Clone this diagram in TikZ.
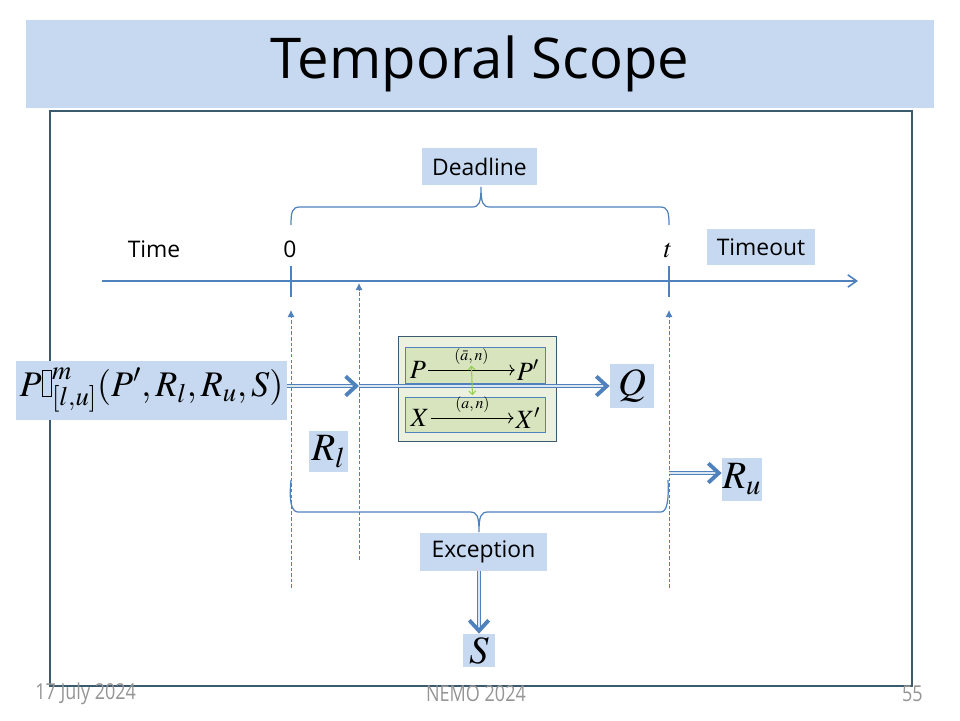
\documentclass[tikz,border=0pt]{standalone}
\usepackage{amsmath}
\usepackage{mathptmx}
\usepackage[no-math]{fontspec}
\setmainfont{Open Sans}
\newfontfamily\footfont[FakeStretch=0.82]{Open Sans}
\usetikzlibrary{arrows.meta,positioning}

\definecolor{boxblue}{HTML}{C6D9F1}
\definecolor{lineblue}{HTML}{4F81BD}
\definecolor{dblin}{HTML}{DCE6F2}
\definecolor{frameslate}{HTML}{3B5A6E}
\definecolor{cream}{HTML}{EBF1DE}
\definecolor{olive}{HTML}{D7E4BD}
\definecolor{grnarrow}{HTML}{92D050}
\definecolor{footgray}{HTML}{959595}

\newcommand{\tofu}{\mathord{\fboxsep=0pt\fboxrule=0.4pt\fbox{\vphantom{P}\hspace{0.25em}}}}

\begin{document}
\begin{tikzpicture}[
    x=0.02cm, y=-0.02cm, >=Latex,
    lbl/.style={fill=boxblue, inner sep=0pt, font=\fontsize{13}{15}\selectfont},
    mathbox/.style={fill=boxblue, inner sep=0pt, font=\fontsize{22}{26}\selectfont},
    plain/.style={inner sep=1pt, font=\fontsize{13}{15}\selectfont},
    axis/.style={draw=lineblue, line width=0.9pt},
    dsh/.style={draw=lineblue, line width=0.5pt, dash pattern=on 2pt off 1.2pt, -{Latex[length=4pt,width=4pt]}},
    dbl/.style={draw=lineblue, double=dblin, double distance=1.1pt, line width=0.5pt,
        -{Straight Barb[length=6pt,width=11pt,line width=2.2pt]}},
    brc/.style={draw=lineblue, line width=0.7pt},
    trans/.style={inner sep=1pt, font=\fontsize{15}{17}\selectfont},
    translbl/.style={inner sep=0.5pt, font=\fontsize{9}{10}\selectfont},
    foot/.style={inner sep=0pt, text=footgray, font=\footfont\fontsize{12.5}{14}\selectfont}
  ]
  \useasboundingbox (0,0) rectangle (960,720);

  % title band and frame
  \node[fill=boxblue, minimum width=18.16cm, minimum height=1.76cm,
        font=\fontsize{32}{38}\selectfont] (title) at (480,64) {Temporal Scope};
  \draw[frameslate, line width=0.6pt] (50,111) rectangle (912,686);

  % time axis
  \coordinate (axL) at (102,281);
  \coordinate (axR) at (858,281);
  \draw[axis, -{Straight Barb[length=5pt,width=7pt,line width=0.9pt]}] (axL) -- (axR);
  \draw[axis] (291,266) -- (291,297);
  \draw[axis] (669,266) -- (669,297);
  \node[plain] (time) at (154,249) {Time};
  \node[plain] (zero) at (290,249) {0};
  \node[plain] (tee) at (668,250) {\fontsize{15}{17}\selectfont$t$};
  \node[lbl, minimum width=2.16cm, minimum height=0.72cm] (timeout) at (761,247) {Timeout};

  % deadline brace
  \node[lbl, minimum width=2.3cm, minimum height=0.74cm] (deadline) at (479.5,166.5) {Deadline};
  \draw[brc] (291,225) .. controls (291,212) and (292,207) .. (300,207) -- (472,207)
    .. controls (479,207) and (481,203) .. (481,187)
    .. controls (481,203) and (483,207) .. (490,207) -- (660,207)
    .. controls (668,207) and (669,212) .. (669,225);

  % dashed markers
  \coordinate (d0b) at (291,588);
  \coordinate (d0t) at (291,310);
  \coordinate (dlb) at (359,560);
  \coordinate (dlt) at (359,283);
  \coordinate (dtb) at (669,588);
  \coordinate (dtt) at (669,310);
  \draw[dsh] (d0b) -- (d0t);
  \draw[dsh] (dlb) -- (dlt);
  \draw[dsh] (dtb) -- (dtt);

  % process term
  \node[mathbox, minimum width=5.42cm, minimum height=1.18cm, font=\fontsize{20.5}{24}\selectfont] (formula) at (151.5,390.5)
    {$P\tofu^{m}_{[l,u]}(P',R_l,R_u,S)$};
  \node[mathbox, minimum width=0.88cm, minimum height=0.88cm] (Q) at (632,386) {$Q$};
  \node[mathbox, minimum width=0.78cm, minimum height=0.82cm] (Rl) at (328.5,451.5) {$R_l$};
  \node[mathbox, minimum width=0.8cm, minimum height=0.86cm] (Ru) at (742,479.5) {$R_u$};

  % synchronisation box
  \node[draw=frameslate, fill=cream, line width=0.5pt, minimum width=3.16cm, minimum height=2.1cm] (sync) at (477,388.5) {};

  \coordinate (rlhit) at (359,386);
  \draw[dbl] (formula.east |- rlhit) -- (rlhit);
  \draw[dbl] (rlhit) -- (rlhit -| Q.west);

  \node[draw=lineblue, fill=olive, line width=0.5pt, minimum width=2.8cm, minimum height=0.72cm] (pbox) at (475,365) {};
  \node[draw=lineblue, fill=olive, line width=0.5pt, minimum width=2.8cm, minimum height=0.7cm] (xbox) at (475,414.5) {};
  \node[trans] (p1) at (418,370) {$P$};
  \node[trans] (p2) at (528,370) {$P'$};
  \draw[-{To[length=3pt]}, line width=0.5pt] (p1) -- (p2) node[midway, above=2.5pt, translbl] (plab) {$(\bar a,n)$};
  \node[trans] (x1) at (420,418) {$X$};
  \node[trans] (x2) at (528,418) {$X'$};
  \draw[-{To[length=3pt]}, line width=0.5pt] (x1) -- (x2) node[midway, above=2.5pt, translbl] (xlab) {$(a,n)$};
  \draw[grnarrow, line width=0.6pt, {Straight Barb[length=2pt,width=4pt]}-{Straight Barb[length=2pt,width=4pt]}] (plab.south) -- (xlab.north);

  % exception brace
  \draw[brc] (291,480) .. controls (289,500) and (291,512) .. (298,512) -- (470,512)
    .. controls (477,512) and (479,516) .. (479,532)
    .. controls (479,516) and (481,512) .. (488,512) -- (661,512)
    .. controls (667,512) and (669,500) .. (668,480);
  \node[lbl, minimum width=2.54cm, minimum height=0.76cm] (exc) at (483.5,552) {Exception};
  \node[mathbox, minimum width=0.64cm, minimum height=0.66cm] (S) at (479,650.5) {$S$};
  \draw[dbl] (exc.south -| S) -- (S.north);

  % timeout branch
  \coordinate (ruo) at (669,473);
  \draw[dbl] (ruo) -- (ruo -| Ru.west);

  % footer
  \node[foot, anchor=west] (date) at (35,694) {17 July 2024};
  \node[foot] (event) at (476,694) {NEMO 2024};
  \node[foot, anchor=east] (page) at (923,694) {55};
\end{tikzpicture}
\end{document}
